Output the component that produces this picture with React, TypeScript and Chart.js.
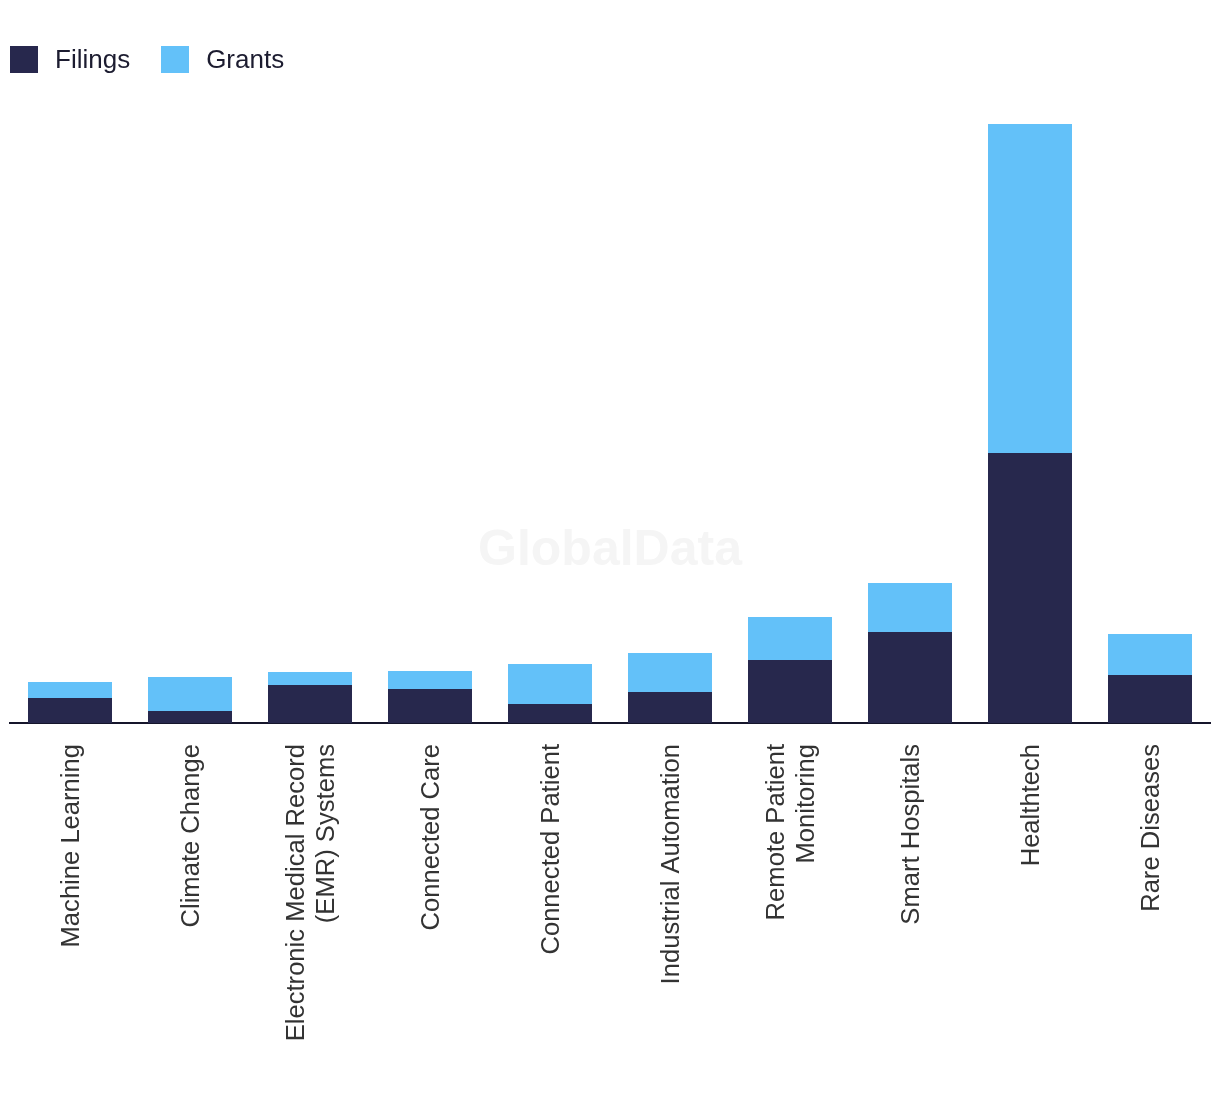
import React, { useEffect, useRef } from "react";
import { Chart, registerables } from "chart.js";

Chart.register(...registerables);

const categories: (string | string[])[] = [
  "Machine Learning",
  "Climate Change",
  ["Electronic Medical Record", "(EMR) Systems"],
  "Connected Care",
  "Connected Patient",
  "Industrial Automation",
  ["Remote Patient", "Monitoring"],
  "Smart Hospitals",
  "Healthtech",
  "Rare Diseases",
];

const filings = [25, 12, 38, 34, 19, 31, 63, 91, 270, 48];
const grants = [16, 34, 13, 18, 40, 39, 43, 49, 329, 41];

const seriesNames = ["Filings", "Grants"];
const seriesColors = ["#27284d", "#63c1f9"];

const LABEL_FONT = "25.6px 'Liberation Sans', Arial, sans-serif";

const labelPlugin = {
  id: "rotatedLabels",
  afterDraw(chart: any) {
    const { ctx, chartArea } = chart;
    const xs = chart.scales.x;
    const lh = 30;
    ctx.save();
    ctx.font = LABEL_FONT;
    ctx.fillStyle = "#333333";
    ctx.textAlign = "right";
    ctx.textBaseline = "middle";
    categories.forEach((c, i) => {
      const lines = Array.isArray(c) ? c : [c];
      const x = xs.getPixelForValue(i) + 2;
      const y = chartArea.bottom + 21;
      ctx.save();
      ctx.translate(x, y);
      ctx.rotate(-Math.PI / 2);
      lines.forEach((ln, j) => {
        ctx.fillText(ln, 0, (j - (lines.length - 1) / 2) * lh);
      });
      ctx.restore();
    });
    ctx.restore();
  },
};

const watermarkPlugin = {
  id: "watermark",
  beforeDatasetsDraw(chart: any) {
    const { ctx } = chart;
    ctx.save();
    ctx.font = "bold 50px 'Liberation Sans', Arial, sans-serif";
    ctx.fillStyle = "#f5f5f5";
    ctx.textAlign = "center";
    ctx.textBaseline = "alphabetic";
    ctx.fillText("GlobalData", 602, 557);
    ctx.restore();
  },
};

export default function App() {
  const ref = useRef<HTMLCanvasElement | null>(null);

  useEffect(() => {
    if (!ref.current) return;
    const chart = new Chart(ref.current, {
      type: "bar",
      data: {
        labels: categories.map((c) => (Array.isArray(c) ? c.join(" ") : c)),
        datasets: [
          {
            label: seriesNames[0],
            data: filings,
            backgroundColor: seriesColors[0],
            barPercentage: 0.7,
            categoryPercentage: 1.0,
          },
          {
            label: seriesNames[1],
            data: grants,
            backgroundColor: seriesColors[1],
            barPercentage: 0.7,
            categoryPercentage: 1.0,
          },
        ],
      },
      options: {
        responsive: false,
        animation: false,
        layout: { padding: { top: 115, left: 2, right: 2, bottom: 0 } },
        plugins: {
          legend: { display: false },
          tooltip: { enabled: false },
        },
        scales: {
          x: {
            stacked: true,
            grid: { display: false, drawTicks: false },
            border: { display: true, color: "#15152b", width: 2 },
            ticks: { display: false },
            afterFit: (scale: any) => {
              scale.height = 363;
            },
          },
          y: {
            stacked: true,
            display: false,
            min: 0,
            max: 600,
          },
        },
      },
      plugins: [watermarkPlugin, labelPlugin],
    });
    return () => chart.destroy();
  }, []);

  const legendText: React.CSSProperties = {
    fontFamily: "'Liberation Sans', Arial, sans-serif",
    fontSize: 26,
    color: "#1c1c30",
    lineHeight: "27px",
  };

  return (
    <div style={{ position: "relative", width: 1204, height: 1078 }}>
      <canvas ref={ref} width={1204} height={1078} style={{ display: "block" }} />
      <div
        style={{
          position: "absolute",
          left: 2,
          top: 38,
          display: "flex",
          alignItems: "center",
        }}
      >
        {seriesNames.map((n, i) => (
          <div key={n} style={{ display: "flex", alignItems: "center", marginRight: i === 0 ? 31 : 0 }}>
            <div style={{ width: 28, height: 27, background: seriesColors[i], marginRight: 17 }} />
            <span style={legendText}>{n}</span>
          </div>
        ))}
      </div>
    </div>
  );
}
